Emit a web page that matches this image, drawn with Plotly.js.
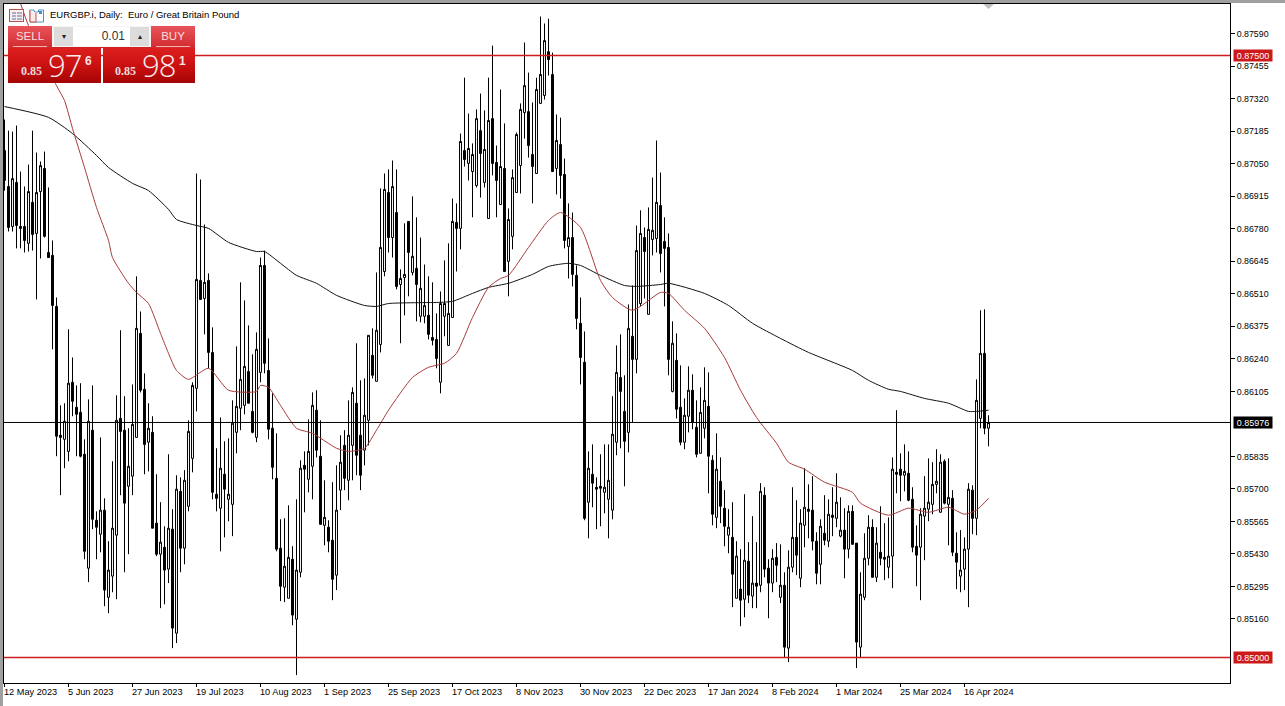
<!DOCTYPE html>
<html><head><meta charset="utf-8">
<script src="https://cdn.plot.ly/plotly-3.0.1.min.js"></script>
<style>
html,body{margin:0;padding:0;background:#fff;width:1285px;height:706px;overflow:hidden}
#chart{position:absolute;left:0;top:0;width:1285px;height:706px}
.bar{position:absolute;background:#a0a0a0}
.ui{position:absolute;font-family:"Liberation Sans",sans-serif;color:#fff;box-sizing:border-box}
.btn{background:linear-gradient(#e8545a,#d22b30);text-align:center;font-size:11.5px;color:#f7dede}
.btn span{position:absolute;left:5px;right:5px;top:20px;height:1px;background:#f3b0b0}
.price{background:linear-gradient(#dc1f1f 0%,#c80f0f 55%,#a50404 100%)}
.small{position:absolute;font:bold 12px "Liberation Serif",serif;color:#f3dcdc}
.big{position:absolute;font:300 31px/32px "Open Sans",sans-serif;color:#fbeeee;letter-spacing:-1px}
.sup{position:absolute;font:bold 12px "Liberation Sans",sans-serif;color:#f6e6e6}
</style></head><body>
<div id="chart"></div>
<div class="bar" style="left:0;top:0;width:3px;height:706px"></div>
<div class="bar" style="left:0;top:0;width:1285px;height:3px"></div>
<svg class="ui" style="left:9px;top:9px" width="36" height="14" viewBox="0 0 36 14">
<rect x="0.5" y="0.5" width="14" height="12" fill="#fdeeee" stroke="#b2504c"/><path d="M3 4h4M3 7h4M3 10h4M8 4h5M8 7h5M8 10h5" stroke="#5a6fa8" fill="none"/>
<path d="M21 1h4l0.5 2h4V1h5v12H21z" fill="#fff" stroke="#4a90c8"/><path d="M21 1v12h6V4" fill="#fbeaea" stroke="#c0504d"/><rect x="30" y="2" width="3" height="3" fill="#4a90c8"/>
</svg>
<div class="ui btn" style="left:8px;top:26px;width:44px;height:22px;line-height:20px">SELL<span></span></div>
<div class="ui btn" style="left:151px;top:26px;width:44px;height:22px;line-height:20px">BUY<span></span></div>
<div class="ui" style="left:52px;top:26px;width:99px;height:22px;background:#f7f4f4;border-bottom:1px solid #c22"></div>
<div class="ui" style="left:54px;top:27px;width:19px;height:19px;background:#dcdcdc;color:#222;font-size:8px;line-height:19px;text-align:center">▾</div>
<div class="ui" style="left:73px;top:27px;width:57px;height:19px;background:#fff;color:#333;font-size:12px;line-height:19px;text-align:right;padding-right:5px">0.01</div>
<div class="ui" style="left:130px;top:27px;width:19px;height:19px;background:#dcdcdc;color:#222;font-size:8px;line-height:19px;text-align:center">▴</div>
<div class="ui price" style="left:8px;top:48px;width:93px;height:35px">
<div class="small" style="left:13px;top:16px">0.85</div><div class="big" style="left:40px;top:1px">97</div><div class="sup" style="left:77px;top:6px">6</div></div>
<div class="ui price" style="left:103px;top:48px;width:92px;height:35px">
<div class="small" style="left:12px;top:16px">0.85</div><div class="big" style="left:39px;top:1px">98</div><div class="sup" style="left:76px;top:6px">1</div></div>
<svg class="ui" style="left:983px;top:4px" width="12" height="6"><path d="M0 0H11L5.5 5z" fill="#c0c0c0"/></svg>
<script>
const opens=[87105,86956,86790,86973,86790,86790,86720,86890,86761,86935,
87031,86682,86670,86458,85923,85906,85856,86143,86039,86018,
85844,85371,85944,85570,85512,85612,85250,85338,85508,85993,
85944,85711,85753,85914,86346,86114,85894,85935,85558,85429,
85458,85367,85533,85101,85690,85454,85628,85827,86118,86566,
86491,86566,86267,85678,85620,85761,85657,85636,85935,86035,
86047,86188,86022,85914,86184,86628,86192,85952,85744,85454,
85292,85246,85408,85159,85354,85798,85740,85794,86027,85836,
85549,85541,85487,85342,85695,85881,85736,85881,86056,85923,
85861,85985,86255,86147,86300,86603,86931,86744,86848,86549,
86578,86811,86599,86616,86417,86417,86421,86329,86321,86143,
86417,86296,86412,86807,86782,87105,87052,87018,86960,87188,
86973,86823,87238,87056,86881,87031,86645,86749,86931,87043,
87263,87267,87089,87010,87301,87334,87516,87421,87031,87130,
87006,86707,86744,86587,86388,86226,85645,85761,85707,85711,
85686,85657,85612,85894,86163,86022,85935,86334,86238,86470,
86744,86425,86736,86740,86877,86728,86703,86105,86234,86039,
85894,86002,86110,85956,85848,85952,86043,85819,85582,85732,
85620,85508,85499,85246,85284,85242,85400,85255,85309,85300,
85674,85371,85309,85416,85250,85300,85039,85375,85499,85329,
85549,85616,85612,85483,85387,85516,85483,85591,85578,85504,
85529,85450,85607,85475,85043,85250,85412,85541,85333,85437,
85416,85375,85421,85769,85782,85757,85765,85657,85462,85458,
85587,85616,85636,85719,85603,85815,85636,85661,85433,85338,
85367,85450,85695,85578,85993,86263,85952];
const highs=[87234,87188,87184,87209,87018,86956,87047,87188,87097,87060,
87101,86952,86732,86495,86047,86056,86363,86246,86130,86139,
85906,86072,86130,85607,85914,85661,85483,85815,86089,86359,
86085,85952,86134,86583,86437,86180,86056,86002,85761,85645,
85545,85844,85616,85757,85748,85778,85985,86143,87010,86985,
86798,86595,86371,85869,85997,85898,85910,86068,86292,86558,
86483,86379,86259,86350,86661,86690,86325,86097,85931,85574,
85578,85632,85462,85657,85819,85856,85989,86101,86110,85985,
85736,85570,85728,85798,85923,85944,86068,86122,86305,86151,
86159,86338,86367,86599,86948,87010,87027,87064,87027,86612,
86803,86811,86915,86828,86744,86632,86583,86558,86429,86520,
86649,86720,86906,86886,87176,87408,87259,87135,87276,87342,
87272,87408,87541,87126,87359,87218,86865,87027,87180,87301,
87554,87429,87305,87408,87662,87633,87653,87512,87255,87242,
87072,86886,86848,86628,86495,86354,85856,85885,85748,85844,
85885,85885,86085,86296,86342,86172,86466,86545,86794,86857,
86786,86869,86993,87147,87014,86828,86761,86396,86346,86213,
86076,86209,86176,86068,86122,86205,86184,85840,85931,85831,
85695,85616,85645,85483,85450,85678,85479,85587,85479,85724,
85707,85408,85450,85475,85470,85354,85445,85707,85653,85616,
85786,85719,85753,85520,85574,85674,85657,85707,85765,85665,
85620,85632,85632,85475,85354,85516,85591,85574,85541,85628,
85558,85582,85831,86027,85848,85885,85856,85707,85549,85620,
85753,85827,85811,85865,85844,85823,85827,85695,85520,85529,
85499,85724,85715,86155,86442,86446,86006];
const lows=[86939,86769,86769,86699,86699,86682,86686,86690,86487,86657,
86744,86661,86280,85836,85674,85786,85815,86002,85836,85831,
85408,85313,85533,85408,85437,85213,85184,85271,85242,85674,
85354,85429,85674,85914,86101,85761,85773,85537,85421,85205,
85221,85309,85039,85060,85354,85387,85607,85769,86022,86487,
86342,86201,85657,85607,85441,85499,85566,85504,85848,85944,
86010,86056,85931,85894,86143,86180,85906,85740,85441,85234,
85230,85246,85134,84927,85333,85603,85686,85657,85831,85553,
85466,85437,85238,85280,85612,85695,85653,85736,85757,85695,
85798,85881,86159,86147,86267,86583,86682,86661,86529,86305,
86421,86500,86587,86396,86392,86388,86321,86296,86201,86097,
86334,86296,86412,86603,86695,87039,86981,86828,86952,86910,
86952,86823,87002,86828,86881,86603,86500,86695,86931,86927,
87155,87076,86886,87010,87301,87317,87417,87018,86923,86906,
86699,86574,86541,86363,86134,85570,85495,85624,85533,85545,
85599,85495,85574,85840,85869,85711,85852,85977,86180,86458,
86491,86425,86670,86682,86599,86458,86172,86101,85993,85881,
85865,85935,85948,85831,85848,85910,85682,85549,85537,85558,
85462,85433,85209,85246,85130,85167,85226,85205,85205,85271,
85333,85163,85271,85313,85226,85001,84981,85354,85342,85292,
85458,85495,85445,85304,85304,85466,85458,85504,85541,85499,
85329,85412,85470,84956,85001,85238,85383,85333,85313,85383,
85321,85329,85288,85682,85649,85690,85649,85437,85296,85238,
85404,85566,85595,85682,85603,85636,85466,85421,85284,85271,
85280,85209,85512,85508,85952,85927,85877];
const closes=[86981,86786,86989,86794,86782,86732,86935,86757,86931,87043,
86749,86661,86462,85919,85914,85981,86139,86064,86010,85836,
85441,85981,85574,85541,85612,85280,85363,85537,85985,85939,
85641,85794,85968,86367,86110,85885,85952,85537,85429,85479,
85363,85537,85122,85699,85454,85736,85939,86130,86570,86487,
86558,86267,85686,85661,85786,85699,85678,85973,86043,86155,
86209,86056,85935,86280,86628,86222,85948,85790,85450,85296,
85379,85416,85176,85363,85786,85782,85856,86047,85861,85553,
85582,85483,85325,85612,85811,85744,85923,86101,85840,85757,
86006,86338,86172,86359,86703,86944,86744,86956,86541,86574,
86591,86682,86666,86549,86533,86462,86342,86317,86242,86470,
86470,86429,86811,86782,87143,87068,87114,87089,87238,87093,
87110,87230,87052,86981,87039,86603,86819,86993,87172,87276,
87375,87126,87039,87359,87421,87562,87483,87018,87147,87002,
86732,86744,86591,86408,86246,85578,85786,85724,85699,85703,
85707,85736,85927,86184,86105,85898,86367,86238,86690,86761,
86686,86778,86774,86890,86678,86699,86238,86305,86031,85894,
86006,86110,85977,85844,86018,86068,85836,85595,85782,85628,
85545,85541,85346,85421,85238,85404,85259,85309,85296,85690,
85367,85309,85412,85383,85300,85043,85375,85499,85425,85558,
85624,85607,85483,85350,85545,85487,85595,85582,85645,85529,
85450,85607,85470,85064,85263,85412,85541,85333,85475,85412,
85408,85421,85782,85761,85757,85773,85653,85458,85425,85595,
85620,85645,85719,85732,85811,85641,85665,85437,85396,85363,
85450,85699,85578,86068,86263,85952,85976];
const redMaBars=[4,6,13,15,17,20,23,26,27,31,33,36,39,41,43,46,51,56,63,64,66,69,73,77,83,86,90,93,96,102,106,110,113,117,121,124,126,131,136,139,144,149,152,157,164,166,170,175,180,184,188,193,196,200,205,212,214,221,226,231,236,240,243,246];
const redMaVals=[87716,87624,87375,87313,87197,87035,86869,86732,86661,86554,86516,86470,86346,86263,86192,86155,86201,86110,86105,86130,86122,86047,85952,85931,85869,85856,85869,85944,86027,86163,86205,86222,86263,86412,86537,86574,86587,86703,86815,86848,86786,86566,86495,86442,86516,86512,86442,86367,86246,86110,85997,85890,85811,85782,85728,85686,85641,85591,85620,85603,85624,85595,85612,85661];
const blackMaBars=[0,11,17,23,26,32,36,41,43,48,51,56,63,65,69,73,78,83,90,93,96,109,112,117,121,126,132,136,141,144,149,155,158,164,166,175,181,187,194,201,212,216,221,224,230,236,241,243,246];
const blackMaVals=[87288,87243,87176,87085,87035,86969,86939,86861,86819,86794,86782,86724,86686,86686,86637,86587,86554,86504,86462,86458,86470,86475,86479,86512,86537,86554,86591,86624,86637,86628,86587,86545,86541,86549,86554,86512,86462,86388,86325,86267,86192,86151,86114,86105,86076,86056,86022,86022,86027];
const yTickVals=[0.8759,0.87455,0.8732,0.87185,0.8705,0.86915,0.8678,0.86645,0.8651,0.86375,0.8624,0.86105,0.85835,0.857,0.85565,0.8543,0.85295,0.8516];
const dateTickBars=[0,16,32,48,64,80,96,112,128,144,160,176,192,208,224,240];
const dateTickLabels=["12 May 2023","5 Jun 2023","27 Jun 2023","19 Jul 2023","10 Aug 2023","1 Sep 2023","25 Sep 2023","17 Oct 2023","8 Nov 2023","30 Nov 2023","22 Dec 2023","17 Jan 2024","8 Feb 2024","1 Mar 2024","25 Mar 2024","16 Apr 2024"];
const priceLines=[0.875,0.85];
const lastPrice=0.85976;

const px=v=>v/1e5;
const FONT='"Liberation Sans", sans-serif';
const RED='#cc1c1c';
const XR=[-0.125,306.375];
const bars=opens.map((_,i)=>i);
const level=(p,c,w)=>({type:'scatter',mode:'lines',x:XR,y:[p,p],line:{color:c,width:w},hoverinfo:'skip',showlegend:false});
const traces=[
 {type:'candlestick',x:bars,open:opens.map(px),high:highs.map(px),low:lows.map(px),close:closes.map(px),
  increasing:{line:{color:'#000',width:1},fillcolor:'#fff'},decreasing:{line:{color:'#000',width:1},fillcolor:'#000'},
  whiskerwidth:0,hoverinfo:'skip',showlegend:false},
 {type:'scatter',mode:'lines',x:blackMaBars,y:blackMaVals.map(px),line:{color:'#111',width:1,shape:'spline',smoothing:0.6},hoverinfo:'skip',showlegend:false},
 {type:'scatter',mode:'lines',x:redMaBars,y:redMaVals.map(px),line:{color:'#a83a3a',width:1,shape:'spline',smoothing:0.6},hoverinfo:'skip',showlegend:false},
 level(lastPrice,'#000',1),
 ...priceLines.map(p=>level(p,RED,1.5))
];
const tag=(p,bg,txt)=>({xref:'paper',yref:'y',x:(1233-4)/1226,y:p,xanchor:'left',yanchor:'middle',showarrow:false,
  text:txt,font:{family:FONT,size:9,color:'#fff'},bgcolor:bg,width:38,height:11,borderpad:0,align:'center'});
const annotations=[
 ...dateTickBars.map((b,k)=>({xref:'x',yref:'paper',x:b,y:0,yshift:-2,xshift:-3,xanchor:'left',yanchor:'top',showarrow:false,
   text:dateTickLabels[k],font:{family:FONT,size:9.2,color:'#000'}})),
 ...priceLines.map(p=>tag(p,'#cc1a1a',p.toFixed(5))),
 tag(lastPrice,'#000',lastPrice.toFixed(5))
];
const layout={
 width:1285,height:706,paper_bgcolor:'#fff',plot_bgcolor:'#fff',
 margin:{l:4,t:4,r:55,b:23,pad:0},showlegend:false,dragmode:false,hovermode:false,
 font:{family:FONT,size:9,color:'#000'},
 title:{text:'EURGBP.i, Daily:  Euro / Great Britain Pound',x:50/1285,xanchor:'left',y:1-15/706,yanchor:'middle',font:{family:FONT,size:9.5,color:'#000'}},
 xaxis:{range:XR,type:'linear',rangeslider:{visible:false},showgrid:false,zeroline:false,showline:true,mirror:true,linecolor:'#000',linewidth:1,
  ticks:'outside',ticklen:3,tickcolor:'#000',tickvals:dateTickBars,showticklabels:false},
 yaxis:{range:[0.848941,0.877139],side:'right',showgrid:false,zeroline:false,showline:true,mirror:true,linecolor:'#000',linewidth:1,
  ticks:'outside',ticklen:4,tickcolor:'#000',tickvals:yTickVals,ticktext:yTickVals.map(v=>v.toFixed(5)),tickfont:{family:FONT,size:8.8,color:'#000'}},
 annotations
};
Plotly.newPlot('chart',traces,layout,{displayModeBar:false,staticPlot:true});
</script>
</body></html>
